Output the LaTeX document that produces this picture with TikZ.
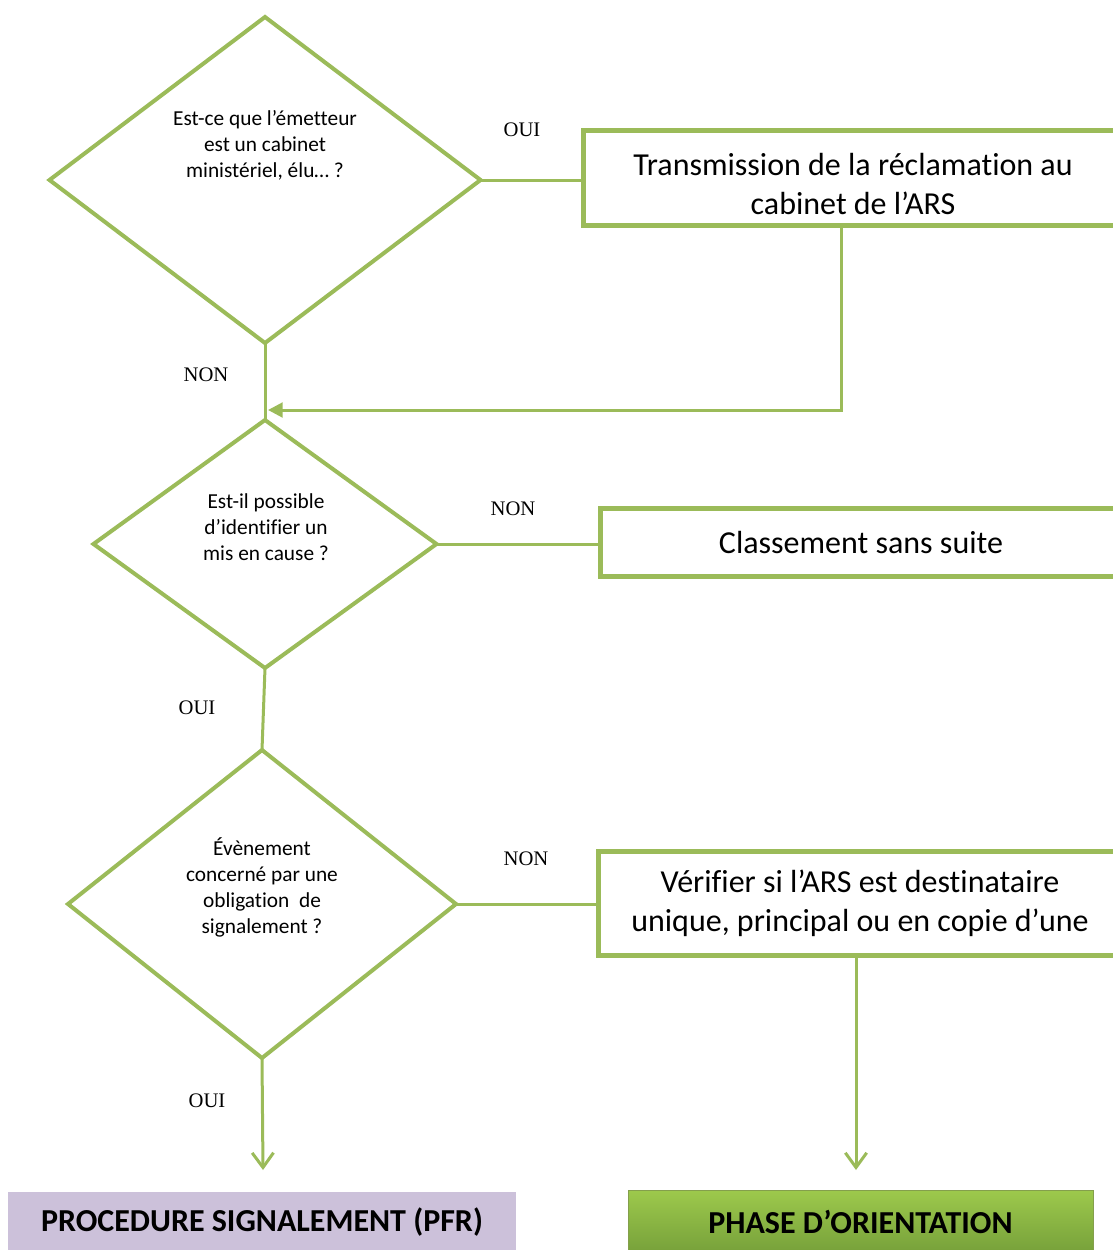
\documentclass[tikz,border=0pt]{standalone}
\usepackage{fontspec}
\setmainfont[Ligatures=NoCommon]{Carlito}
\newfontfamily\timesf{Liberation Serif}
\usetikzlibrary{shapes.geometric,arrows.meta}
\definecolor{olv}{HTML}{9BBB59}
\definecolor{lav}{HTML}{CCC1DA}
\definecolor{gtop}{HTML}{9DC94C}
\definecolor{gbot}{HTML}{76A03A}
\tikzset{
  dec/.style={diamond, draw=olv, line width=3pt, inner sep=0pt, outer sep=0pt},
  dectext/.style={align=center, inner sep=0pt, font=\fontsize{16}{19.5}\selectfont},
  actbox/.style={rectangle, draw=olv, line width=3.75pt, inner sep=0pt, outer sep=0pt,
    align=center, font=\fontsize{24}{29.3}\selectfont},
  acttext/.style={align=center, inner sep=0pt, font=\fontsize{24}{29.3}\selectfont},
  conn/.style={draw=olv, line width=2.25pt},
  downarr/.style={conn, -{Straight Barb[length=11pt,width=16pt,line width=2.25pt]}},
  leftarr/.style={conn, -{Triangle[length=11pt,width=11pt]}},
  lbl/.style={font=\timesf\fontsize{15.5}{18}\selectfont, inner sep=0pt},
  endbox/.style={rectangle, inner sep=0pt, outer sep=0pt,
    font=\bfseries\fontsize{24}{28}\selectfont}
}
\begin{document}
\begin{tikzpicture}[x=0.75pt,y=-0.75pt]
\useasboundingbox (0,0) rectangle (1113,1250);
\clip (0,0) rectangle (1113,1250);
% decisions
\node[dec, minimum width={431*0.75pt}, minimum height={326*0.75pt}] (d1) at (265,180) {};
\node[dectext] (t1) at (265,145) {Est-ce que l’émetteur\\est un cabinet\\ministériel, élu… ?};
\node[dec, minimum width={343*0.75pt}, minimum height={248*0.75pt}] (d2) at (265,544) {};
\node[dectext] (t2) at (266,527) {Est-il possible\\d’identifier un\\mis en cause ?};
\node[dec, minimum width={388*0.75pt}, minimum height={308*0.75pt}] (d3) at (262,904) {};
\node[dectext] (t3) at (262,887) {Évènement\\concerné par une\\obligation~ de\\signalement ?};
% action boxes
\node[actbox, minimum width={539*0.75pt}, minimum height={95*0.75pt}] (b1) at (852.5,177.5) {};
\node[acttext] (t4) at (853,184) {Transmission de la réclamation au\\cabinet de l’ARS};
\node[actbox, minimum width={522*0.75pt}, minimum height={68*0.75pt}] (b2) at (861,542)
  {Classement sans suite};
\node[actbox, minimum width={524*0.75pt}, minimum height={104*0.75pt}] (b3) at (860,903)
  {Vérifier si l’ARS est destinataire\\unique, principal ou en copie d’une};
% end boxes
\node[endbox, fill=lav, minimum width={508*0.75pt}, minimum height={60*0.75pt}] (pfr) at (262,1222)
  {PROCEDURE SIGNALEMENT (PFR)};
\node[endbox, draw=olv!85!black, line width=0.6pt, top color=gtop, bottom color=gbot,
  minimum width={465*0.75pt}, minimum height={64*0.75pt}] (ori) at (860.5,1222)
  {PHASE D’ORIENTATION};
% coordinates
\coordinate (m) at (268,410);
\coordinate (e1) at (263,1170);
\coordinate (e2) at (856,1170);
% connectors
\draw[conn] (d1.east) -- (d1.east -| b1.west);
\draw[conn] (d1.south) -- (d2.north);
\draw[leftarr] ([xshift=-8.6pt]b1.south) |- (m);
\draw[conn] (d2.east) -- (d2.east -| b2.west);
\draw[conn] (d2.south) -- (d3.north);
\draw[conn] (d3.east) -- (d3.east -| b3.west);
\draw[downarr] (d3.south) -- (e1);
\draw[downarr] ([xshift=-3pt]b3.south) -- (e2);
% labels
\node[lbl] (l1) at (522,130) {OUI};
\node[lbl] (l2) at (206,375) {NON};
\node[lbl] (l3) at (513,509) {NON};
\node[lbl] (l4) at (197,708) {OUI};
\node[lbl] (l5) at (526,859) {NON};
\node[lbl] (l6) at (207,1101) {OUI};
\end{tikzpicture}
\end{document}
